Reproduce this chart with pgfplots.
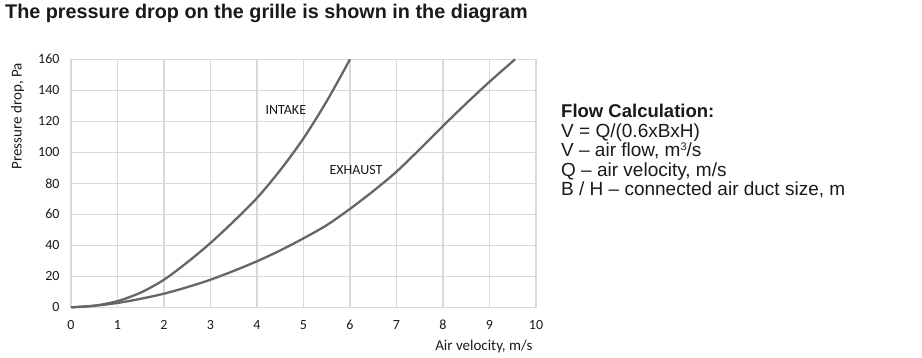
\documentclass[border=0pt]{standalone}
\usepackage{pgfplots}
\pgfplotsset{compat=1.18}
\usepackage{fontspec}
\setmainfont{Carlito}
\newfontfamily\arial{Liberation Sans}
\definecolor{gridc}{HTML}{D9D9D9}
\definecolor{curve}{HTML}{666666}
\definecolor{txt}{HTML}{1A1A1A}
\begin{document}
\begin{tikzpicture}[x=1pt,y=1pt]
\path[use as bounding box] (0,0) rectangle (922,357);
\node[anchor=base west, inner sep=0pt, text=txt] at (5,338) {\arial\bfseries\fontsize{19.8}{21}\selectfont The pressure drop on the grille is shown in the diagram};
\node[anchor=north west, inner sep=0pt, align=left, text=txt, font=\arial\fontsize{19}{19.5}\selectfont] at (561,253) {{\fontsize{18.5}{19.5}\selectfont\textbf{Flow Calculation:}}\\V = Q/(0.6xBxH)\\V – air flow, m\smash{\raisebox{6pt}{\fontsize{11}{11}\selectfont 3}}/s\\Q – air velocity, m/s\\B / H – connected air duct size, m};
\begin{axis}[
  at={(71pt,49.7pt)}, anchor=south west,
  scale only axis, width=465pt, height=248pt,
  xmin=0, xmax=10, ymin=0, ymax=160,
  xtick={0,1,...,10}, ytick={0,20,...,160},
  grid=major, major grid style={gridc, line width=1.2pt},
  axis line style={gridc, line width=1.2pt},
  tick style={draw=none},
  tick label style={font=\fontsize{14}{16}\selectfont, text=txt},
  /pgf/number format/assume math mode=true,
  xticklabel style={yshift=-10pt, text height=9pt, text depth=1pt},
  yticklabel style={xshift=-8pt},
  xlabel={Air velocity, m/s}, ylabel={Pressure drop, Pa},
  label style={font=\fontsize{15}{17}\selectfont, text=txt},
  xlabel style={at={(axis description cs:1,-0.16)}, anchor=east},
  ylabel style={at={(axis description cs:-0.115,0.77)}, anchor=center},
  clip=false,
]
\addplot[curve, line width=2.3pt, smooth] coordinates {
(0,0)(0.5,1)(1,4)(1.5,9.5)(2,17.8)(2.5,29)(3,41.5)(3.5,55.5)(4,70.5)(4.5,88.5)(5,109)(5.5,133)(6,160)};
\addplot[curve, line width=2.3pt, smooth] coordinates {
(0,0)(0.5,1)(1,2.8)(1.5,5.5)(2,8.8)(2.5,13)(3,17.8)(3.5,23.5)(4,29.7)(4.5,36.7)(5,44.5)(5.5,53)(6,63.5)(6.5,75)(7,87.5)(7.5,102)(8,117)(8.5,131.5)(9,145.5)(9.55,160)};
\node[font=\fontsize{14}{16}\selectfont, text=txt] at (axis cs:4.62,127) {INTAKE};
\node[font=\fontsize{14}{16}\selectfont, text=txt] at (axis cs:6.13,88.6) {EXHAUST};
\end{axis}
\end{tikzpicture}
\end{document}
